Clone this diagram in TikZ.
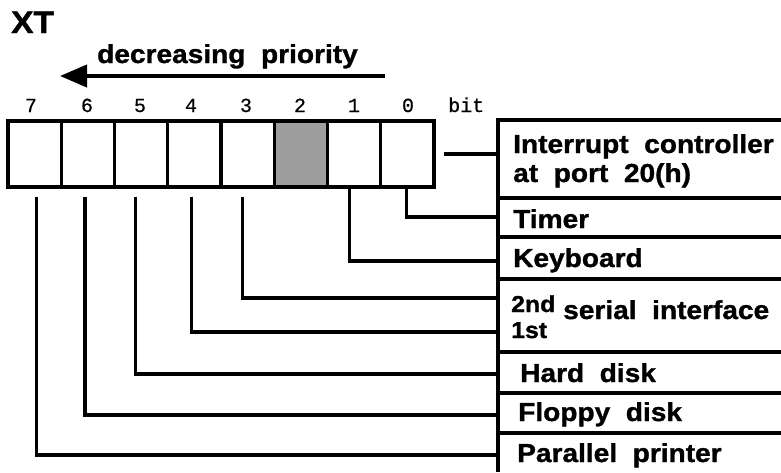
\documentclass[tikz,border=0pt]{standalone}
\usepackage{fontspec}
\setmainfont{Liberation Sans}[FakeStretch=1.08, WordSpace=2, BoldFeatures={FakeBold=1.2}]
\newfontfamily\monofam{Liberation Mono}[FakeBold=0.6]
\usetikzlibrary{arrows.meta}
\begin{document}
\begin{tikzpicture}[x=1pt,y=-1pt,
  ln/.style={line width=3.2pt},
  cell/.style={draw, line width=3.2pt, minimum width=53.25pt, minimum height=66pt, inner sep=0pt},
  lbl/.style={font=\fontsize{26}{29}\selectfont\bfseries, inner sep=0pt, anchor=base west},
  small/.style={font=\fontsize{23}{26}\selectfont\bfseries, inner sep=0pt, anchor=base west},
  digit/.style={font=\fontsize{20}{22}\selectfont\monofam, inner sep=0pt, anchor=base}]
\useasboundingbox (0,0) rectangle (781,472);

% title and priority arrow
\node[lbl, font=\fontsize{31}{33}\selectfont\bfseries] (title) at (11,33) {XT};
\node[lbl] (prio) at (97,63) {decreasing priority};
\coordinate (arrR) at (385,76);
\coordinate (arrL) at (60,76);
\draw[line width=4pt, -{Triangle[length=27pt,width=22pt]}] (arrR) -- (arrL);

% register cells
\foreach \b/\x in {7/34.6,6/87.9,5/141.1,4/194.4,3/247.6,2/300.9,1/354.1,0/407.4}{
  \node[cell] (c\b) at (\x,154) {};
}
\node[cell, fill=black!38] at (c2) {};
\foreach \b/\x in {7/31,6/87,5/140,4/191,3/246,2/300,1/354,0/408}{
  \node[digit] (d\b) at (\x,112) {\b};
}
\node[digit, anchor=base west] (bitlbl) at (448,112) {bit};

% right panel
\draw[ln] (498,120) -- (781,120);
\draw[ln] (498,198) -- (781,198);
\draw[ln] (498,237) -- (781,237);
\draw[ln] (498,279) -- (781,279);
\draw[ln] (498,352) -- (781,352);
\draw[ln] (498,393) -- (781,393);
\draw[ln] (498,433) -- (781,433);
\draw[ln] (498,118.4) -- (498,472);

\node[lbl] (intr) at (513,153) {Interrupt controller};
\node[lbl] (intrb) at (513,182) {at port 20(h)};
\node[lbl] (timer) at (513,228) {Timer};
\node[lbl] (kbd) at (513,267) {Keyboard};
\node[small] (second) at (511,312) {2nd};
\node[small] (first) at (511,338) {1st};
\node[lbl] (serial) at (563,319) {serial interface};
\node[lbl] (hdisk) at (520,382) {Hard disk};
\node[lbl] (fdisk) at (518,421) {Floppy disk};
\node[lbl] (prn) at (517,462) {Parallel printer};

% connector end points on the panel
\coordinate (pInt) at (498,154);
\coordinate (pTim) at (498,217);
\coordinate (pKey) at (498,261);
\coordinate (p3) at (498,298);
\coordinate (p4) at (498,332);
\coordinate (p5) at (498,374);
\coordinate (p6) at (498,415);
\coordinate (p7) at (498,455);

% connectors
\draw[ln] ([xshift=8pt]c0.east) -- (pInt);
\draw[ln] ([xshift=-1pt]c0.south) |- (pTim);
\draw[ln] ([xshift=-5pt]c1.south) |- (pKey);
\draw[ln] ([xshift=-5pt,yshift=-8pt]c3.south) |- (p3);
\draw[ln] ([xshift=-3pt,yshift=-8pt]c4.south) |- (p4);
\draw[ln] ([xshift=-6pt,yshift=-8pt]c5.south) |- (p5);
\draw[ln] ([xshift=-3pt,yshift=-8pt]c6.south) |- (p6);
\draw[ln] ([xshift=1.5pt,yshift=-8pt]c7.south) |- (p7);
\end{tikzpicture}
\end{document}
